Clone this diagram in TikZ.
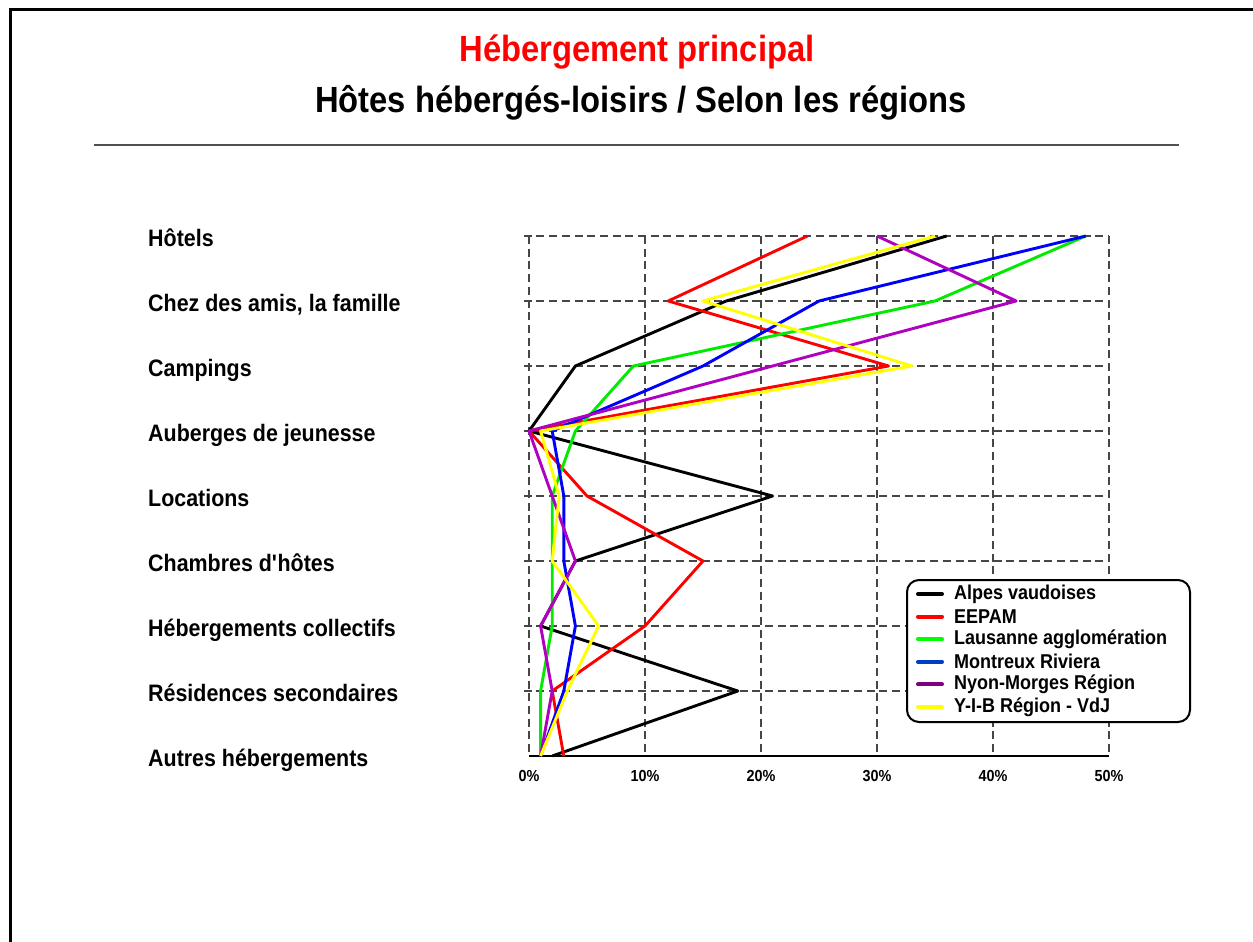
\documentclass[tikz,border=0pt]{standalone}
\usepackage{fontspec}
\setmainfont{Liberation Sans}[FakeStretch=0.9]
\definecolor{cBlack}{RGB}{0,0,0}
\definecolor{cRed}{RGB}{255,0,0}
\definecolor{cGreen}{RGB}{0,235,0}
\definecolor{cBlue}{RGB}{0,0,255}
\definecolor{cPurple}{RGB}{176,0,192}
\definecolor{cYellow}{RGB}{255,255,0}
\definecolor{lGreen}{RGB}{0,255,0}
\definecolor{lBlue}{RGB}{0,64,192}
\definecolor{lPurple}{RGB}{128,0,128}
\definecolor{gridgray}{RGB}{70,70,70}
\definecolor{rulegray}{RGB}{80,80,80}
\begin{document}
\begin{tikzpicture}[x=1pt,y=-1pt,
  rowlabel/.style={anchor=base west,inner sep=0pt,font=\bfseries\fontsize{23.8}{28}\selectfont},
  ticklabel/.style={anchor=center,inner sep=0pt,font=\bfseries\fontsize{16}{19}\selectfont},
  legtext/.style={anchor=west,inner sep=0pt,font=\bfseries\fontsize{20}{24}\selectfont},
  gridline/.style={draw=gridgray,line width=1.3pt,dash pattern=on 8pt off 4.7pt},
  series/.style={line width=2.9pt,line join=round,line cap=butt},
  legline/.style={line width=4pt,line cap=round}]
\useasboundingbox (0,0) rectangle (1253,942);
\fill[white] (0,0) rectangle (1253,942);
% frame
\draw[line width=3pt] (10,942) -- (10,10) -- (1253,10);
% titles
\node[anchor=base,inner sep=0pt,text=cRed,font=\bfseries\fontsize{36.4}{42}\selectfont] (t1) at (637,62) {Hébergement principal};
\node[anchor=base,inner sep=0pt,font=\bfseries\fontsize{36.4}{42}\selectfont] (t2) at (641,112) {Hôtes hébergés-loisirs / Selon les régions};
\draw[rulegray,line width=1.6pt] (94,145) -- (1179,145);
% row labels
\foreach \lab [count=\i from 0] in {Hôtels,{Chez des amis, la famille},Campings,Auberges de jeunesse,Locations,Chambres d\textquotesingle hôtes,Hébergements collectifs,Résidences secondaires,Autres hébergements}
  \node[rowlabel] (lab\i) at (148,236+65*\i+10.5) {\lab};
% plot
\begin{scope}[shift={(529pt,-236pt)},x=11.6pt,y=-65pt]
  \foreach \i in {0,...,7} \draw[gridline] (-0.45,\i) -- (50,\i);
  \foreach \v in {0,10,...,50} \draw[gridline] (\v,0) -- (\v,8);
  \draw[line width=2pt] (0,8) -- (50,8);
  \foreach \v in {0,10,...,50} \node[ticklabel] (tick\v) at (\v,8.31) {\v\%};
  \draw[series,cBlack] plot coordinates {(36,0) (17,1) (4,2) (0,3) (21,4) (4,5) (1,6) (18,7) (2,8)};
  \draw[series,cRed] plot coordinates {(24,0) (12,1) (31,2) (0,3) (5,4) (15,5) (10,6) (2,7) (3,8)};
  \draw[series,cGreen] plot coordinates {(48,0) (35,1) (9,2) (4,3) (2,4) (2,5) (2,6) (1,7) (1,8)};
  \draw[series,cBlue] plot coordinates {(48,0) (25,1) (15,2) (2,3) (3,4) (3,5) (4,6) (3,7) (1,8)};
  \draw[series,cPurple] plot coordinates {(30,0) (42,1) (21,2) (0,3) (2,4) (4,5) (1,6) (2,7) (1,8)};
  \draw[series,cYellow] plot coordinates {(35,0) (15,1) (33,2) (1,3) (2.6,4) (2,5) (6,6) (3.3,7) (1,8)};
\end{scope}
% legend
\draw[line width=2pt,rounded corners=12pt,fill=white] (907,580) rectangle (1190,722);
\foreach \c/\t [count=\k from 0] in {cBlack/Alpes vaudoises,cRed/EEPAM,lGreen/Lausanne agglomération,lBlue/Montreux Riviera,lPurple/Nyon-Morges Région,cYellow/Y-I-B Région - VdJ}{
  \draw[legline,\c] (918,594+22.6*\k) -- (942,594+22.6*\k);
  \node[legtext] (leg\k) at (954,594+22.6*\k) {\t};
}
\end{tikzpicture}
\end{document}
